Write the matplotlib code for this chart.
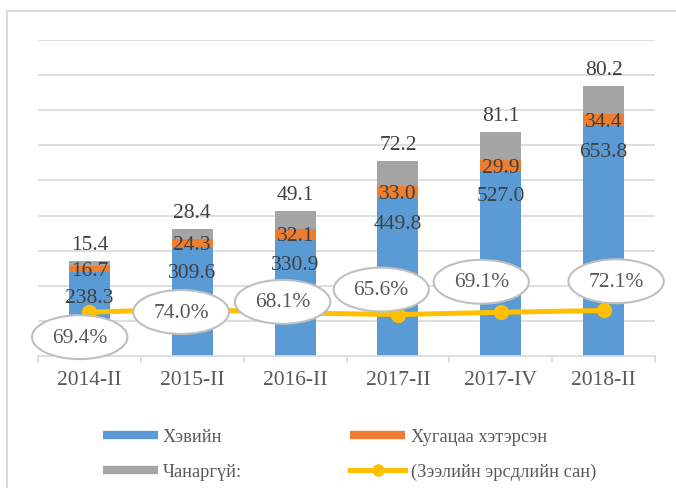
import matplotlib.pyplot as plt
from matplotlib.lines import Line2D
from matplotlib.patches import Rectangle
import numpy as np

# data
periods = ["2014-II", "2015-II", "2016-II", "2017-II", "2017-IV", "2018-II"]
normal = [238.3, 309.6, 330.9, 449.8, 527.0, 653.8]
overdue = [16.7, 24.3, 32.1, 33.0, 29.9, 34.4]
nonperf = [15.4, 28.4, 49.1, 72.2, 81.1, 80.2]
reserve = [69.4, 74.0, 68.1, 65.6, 69.1, 72.1]

c_blue = "#5B9BD5"
c_orange = "#ED7D31"
c_gray = "#A5A5A5"
c_yellow = "#FFC000"
txt = "#404040"

plt.rcParams['font.family'] = ['Liberation Serif', 'DejaVu Serif']

fig = plt.figure(figsize=(6.76, 4.89), dpi=100)
ax = fig.add_axes([38 / 676, 1 - 357 / 489, 617 / 676, 316 / 489])

x = np.arange(len(periods))
w = 0.4
b1 = ax.bar(x, normal, w, color=c_blue, zorder=2)
b2 = ax.bar(x, overdue, w, bottom=normal, color=c_orange, zorder=2)
bot3 = np.array(normal) + np.array(overdue)
b3 = ax.bar(x, nonperf, w, bottom=bot3, color=c_gray, zorder=2)

fs = 15.5
for i in range(len(x)):
    ax.annotate(f"{normal[i]:.1f}", (x[i], normal[i]), xytext=(0, -18),
                textcoords="offset points", ha="center", va="center",
                fontsize=fs, color=txt, zorder=5)
    ax.annotate(f"{overdue[i]:.1f}", (x[i], normal[i] + overdue[i] / 2), xytext=(0, -1),
                textcoords="offset points", ha="center", va="center",
                fontsize=fs, color=txt, zorder=5)
    ax.annotate(f"{nonperf[i]:.1f}", (x[i], bot3[i] + nonperf[i]), xytext=(0, 12),
                textcoords="offset points", ha="center", va="center",
                fontsize=fs, color=txt, zorder=5)

ax.set_ylim(0, 900)
ax.set_xlim(-0.5, len(x) - 0.5)
ax.set_yticks(np.arange(100, 901, 100))
ax.grid(axis="y", color="#D9D9D9", lw=1.2, zorder=0)
for s in ["top", "left", "right"]:
    ax.spines[s].set_visible(False)
ax.spines["bottom"].set_color("#D9D9D9")
ax.spines["bottom"].set_linewidth(1.2)
ax.tick_params(axis="y", length=0, labelleft=False)
ax.set_xticks(x)
ax.set_xticklabels(periods, fontsize=fs, color="#595959")
ax.tick_params(axis="x", which="major", length=0, pad=10)
ax.set_xticks(np.arange(-0.5, len(x), 1), minor=True)
ax.tick_params(axis="x", which="minor", length=5, color="#D9D9D9", width=1.2)

ax2 = ax.twinx()
ax2.set_ylim(0, 5)
ax2.axis("off")
ax2.plot(x, np.array(reserve) / 100, color=c_yellow, lw=3.6, marker="o", ms=10, zorder=3)

offsets = [(-7, -18), (-8, -2), (-9, 8), (-12, 18), (-14, 22), (9, 21)]
for i in range(len(x)):
    ax2.annotate(f"{reserve[i]:.1f}%", (x[i], reserve[i] / 100), xytext=offsets[i],
                 textcoords="offset points", ha="center", va="center",
                 fontsize=fs, color="#595959", zorder=6,
                 bbox=dict(boxstyle="ellipse,pad=0.28", fc="white", ec="#BFBFBF", lw=1.5))

handles = [
    Line2D([], [], color=c_blue, lw=6, solid_capstyle="butt"),
    Line2D([], [], color=c_gray, lw=6, solid_capstyle="butt"),
    Line2D([], [], color=c_orange, lw=6, solid_capstyle="butt"),
    Line2D([], [], color=c_yellow, lw=3.6, marker="o", ms=8),
]
labels = ["Хэвийн", "Чанаргүй:", "Хугацаа хэтэрсэн", "(Зээлийн эрсдлийн сан)"]
fig.legend(handles, labels, ncol=2, loc="upper left",
           bbox_to_anchor=(86 / 676, 1 - 413 / 489), frameon=False,
           fontsize=13.2, labelcolor="#595959", handlelength=3.0, handletextpad=0.3,
           columnspacing=5.9, labelspacing=0.95)

fig.patches.append(Rectangle((7 / 676, -0.1), 1.2, 1.1 - 12 / 489, transform=fig.transFigure,
                             fill=False, ec="#D9D9D9", lw=1.5))

fig.savefig("out.png", dpi=100)
